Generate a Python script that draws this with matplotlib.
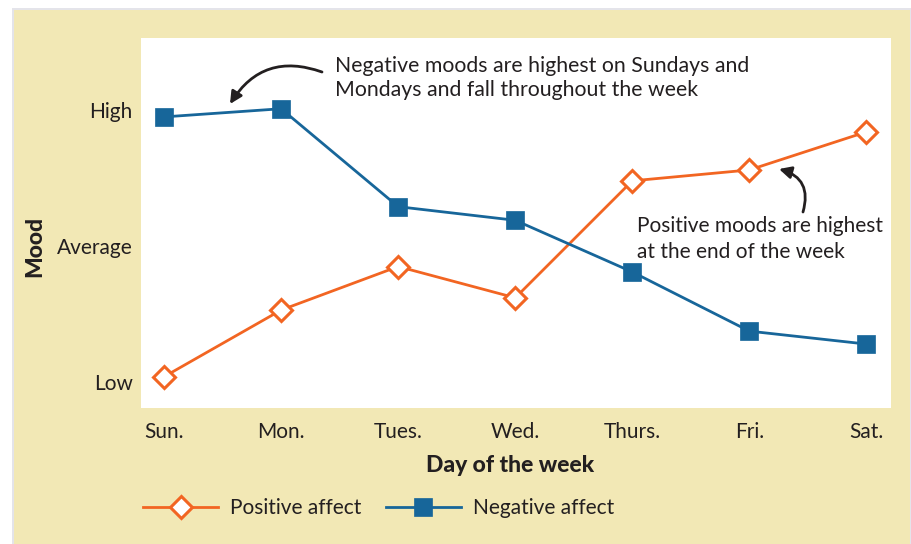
import matplotlib
matplotlib.use("Agg")
import matplotlib.pyplot as plt
from matplotlib.patches import Rectangle
from matplotlib.lines import Line2D

days = ["Sun.", "Mon.", "Tues.", "Wed.", "Thurs.", "Fri.", "Sat."]
positive_affect = [0.04, 0.53, 0.85, 0.62, 1.48, 1.56, 1.84]
negative_affect = [1.95, 2.01, 1.29, 1.19, 0.81, 0.375, 0.28]
mood_ticks = [0, 1, 2]
mood_labels = ["Low", "Average", "High"]

ORANGE = "#f26522"
BLUE = "#17669a"
TEXT = "#231f20"
BG = "#f2e8b5"

plt.rcParams['font.family'] = ['Lato', 'DejaVu Sans']

W, H = 911, 544
fig = plt.figure(figsize=(W / 100, H / 100), dpi=100)
fig.patch.set_facecolor("white")

# shadow + panel
fig.add_artist(Rectangle((12 / W, 0), (W - 12) / W, (H - 8) / H, transform=fig.transFigure,
                         facecolor="#e4e4ea", edgecolor="none", zorder=0))
fig.add_artist(Rectangle((14 / W, 0), (910 - 14) / W, (H - 10) / H, transform=fig.transFigure,
                         facecolor=BG, edgecolor="none", zorder=0))

ax = fig.add_axes([141 / W, (H - 408) / H, 750 / W, 370 / H])
ax.set_facecolor("white")
for s in ax.spines.values():
    s.set_visible(False)

x = list(range(len(days)))
ax.plot(x, positive_affect, color=ORANGE, lw=2, marker="D", ms=11,
        mfc="white", mec=ORANGE, mew=2.2, zorder=3)
ax.plot(x, negative_affect, color=BLUE, lw=2, marker="s", ms=12.5,
        mfc=BLUE, mec=BLUE, mew=0.5, zorder=3)

ax.set_xlim(-0.197, 6.21)
ax.set_ylim(-0.19, 2.53)
ax.set_xticks(x)
ax.set_xticklabels(days)
ax.set_yticks(mood_ticks)
ax.set_yticklabels(mood_labels)
ax.tick_params(axis="both", length=0, labelsize=15, colors=TEXT)
ax.tick_params(axis="x", pad=10)
ax.tick_params(axis="y", pad=6)

fig.text(510 / W, 1 - 465 / H, "Day of the week", ha="center", va="center",
         fontsize=16.5, fontweight="black", color=TEXT)
fig.text(35 / W, 1 - 246 / H, "Mood", ha="center", va="center", rotation=90,
         fontsize=16.5, fontweight="black", color=TEXT)

def px(xp, yp):
    return ax.transData.inverted().transform((xp, H - yp))

ax.text(*px(335, 78), "Negative moods are highest on Sundays and\nMondays and fall throughout the week",
        fontsize=15.3, color=TEXT, ha="left", va="center", linespacing=1.3)
ax.text(*px(637, 239), "Positive moods are highest\nat the end of the week",
        fontsize=15.0, color=TEXT, ha="left", va="center", linespacing=1.35)

arrow_kw = dict(arrowstyle="-|>", color=TEXT, lw=2, mutation_scale=18, shrinkA=0, shrinkB=0)
ax.annotate("", xy=px(230, 104), xytext=px(322, 72),
            arrowprops=dict(connectionstyle="arc3,rad=0.4", **arrow_kw))
ax.annotate("", xy=px(779, 169), xytext=px(803, 212),
            arrowprops=dict(connectionstyle="arc3,rad=0.5", **arrow_kw))

handles = [
    Line2D([], [], color=ORANGE, lw=2, marker="D", ms=11, mfc="white", mec=ORANGE, mew=2.2),
    Line2D([], [], color=BLUE, lw=2, marker="s", ms=12.5, mfc=BLUE, mec=BLUE, mew=0.5),
]
fig.legend(handles, ["Positive affect", "Negative affect"], loc="center left",
           bbox_to_anchor=(143 / W, 1 - 508 / H), ncol=2, frameon=False,
           fontsize=15, handlelength=3.6, handletextpad=0.6, columnspacing=1.15,
           borderpad=0, borderaxespad=0, numpoints=1, labelcolor=TEXT)

fig.savefig("out.png", dpi=100, facecolor="white")
